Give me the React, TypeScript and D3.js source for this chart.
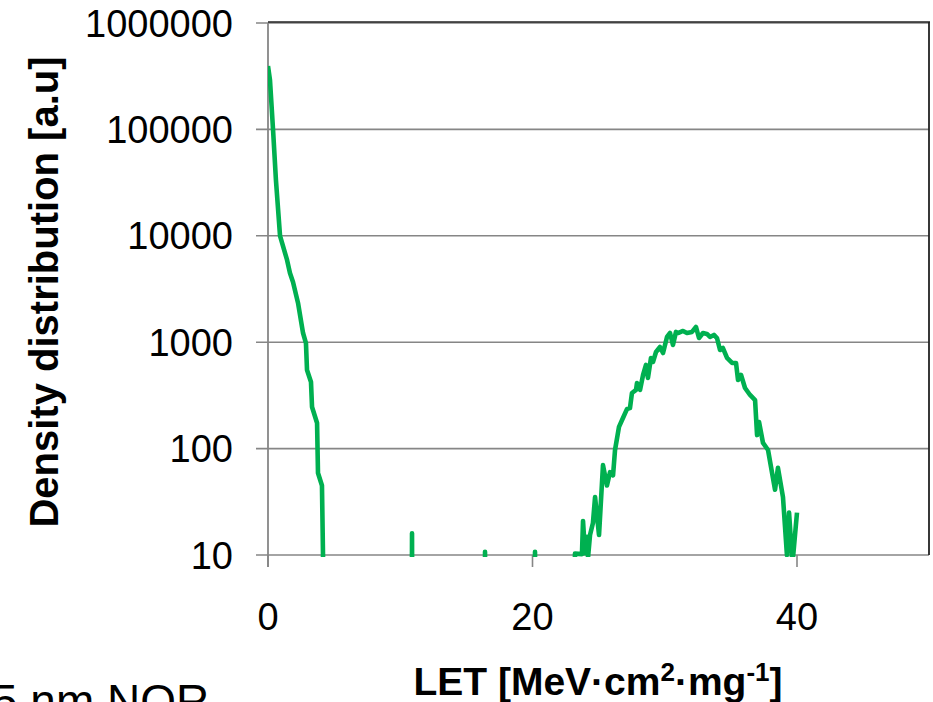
import React from "react";
import * as d3 from "d3";

// LET [MeV·cm²·mg⁻¹] and density distribution [a.u]
const leftLET = [0, 0.15, 0.38, 0.6, 0.91, 1.44, 1.66, 1.89, 2.27, 2.65, 2.87, 2.95, 3.25, 3.33, 3.71, 3.78, 4.08, 4.16, 4.2];
const leftDensity = [394000, 291000, 100000, 33400, 10000, 5930, 4470, 3680, 2340, 1220, 982, 548, 423, 246, 174, 59, 45, 10, 1];

const spikeLET = [10.86, 10.89, 10.92, 16.38, 16.41, 16.44, 20.16, 20.19, 20.22];
const spikeDensity = [1, 16, 1, 1, 10.7, 1, 1, 10.7, 1];

const rightLET = [
  23.18, 23.21, 23.74, 23.82, 23.97, 24.12, 24.2, 24.35, 24.57, 24.73,
  25.03, 25.33, 25.63, 25.86, 26.09, 26.24, 26.54, 26.84, 27.15, 27.37,
  27.52, 27.83, 27.9, 28.13, 28.36, 28.58, 28.73, 28.96, 29.11, 29.34,
  29.64, 29.87, 30.17, 30.4, 30.62, 30.85, 31.0, 31.38, 31.68, 32.06,
  32.36, 32.59, 32.89, 33.19, 33.42, 33.72, 33.95, 34.18, 34.4, 34.71,
  35.09, 35.39, 35.54, 35.77, 36.07, 36.45, 36.83, 36.98, 37.13, 37.43,
  37.81, 38.34, 38.56, 38.94, 39.24, 39.4, 39.62, 39.7, 40.0,
];
const rightDensity = [
  1, 10.3, 10.2, 20.9, 10.4, 14.8, 9.5, 15.4, 20, 35,
  15.4, 70, 45, 60, 56, 97, 160, 194, 236, 240,
  333, 356, 414, 356, 492, 611, 461, 711, 652, 809,
  902, 792, 1120, 1220, 942, 1250, 1220, 1275, 1220, 1250,
  1390, 1095, 1220, 1195, 1120, 1170, 1095, 845, 882, 711,
  638, 638, 441, 492, 371, 319, 286, 134, 178, 113,
  97, 41, 66, 35, 10, 25, 9.5, 9.5, 25,
];

const yTicks = [10, 100, 1000, 10000, 100000, 1000000];
const xTicks = [0, 20, 40];
const xTitle = "LET [MeV·cm";
const yTitle = "Density distribution [a.u]";
const cornerLabel = "5 nm NOR";

const W = 933;
const H = 702;
const plot = { left: 268, right: 929, top: 23, bottom: 555 };

export default function App() {
  const x = d3.scaleLinear().domain([0, 50]).range([plot.left, plot.left + (797 - 268) * 50 / 40]);
  const y = d3.scaleLog().domain([10, 1000000]).range([plot.bottom, plot.top]);

  const pts: [number, number][] = [];
  leftLET.forEach((v, i) => pts.push([v, leftDensity[i]]));
  spikeLET.forEach((v, i) => pts.push([v, spikeDensity[i]]));
  rightLET.forEach((v, i) => pts.push([v, rightDensity[i]]));

  const line = d3
    .line<[number, number]>()
    .x((d) => x(d[0]))
    .y((d) => y(d[1]));

  const font = "Arial, 'Liberation Sans', sans-serif";

  return (
    <svg
      width={W}
      height={H}
      style={{ position: "absolute", left: 0, top: 0, background: "#fff" }}
      fontFamily={font}
    >
      <defs>
        <clipPath id="plotclip">
          <rect x={plot.left} y={plot.top - 3} width={plot.right - plot.left + 3} height={plot.bottom - plot.top + 5} />
        </clipPath>
      </defs>
      {/* gridlines */}
      {yTicks.map((t) => (
        <line key={"g" + t} x1={plot.left - 12} x2={plot.right} y1={y(t)} y2={y(t)} stroke="#868686" strokeWidth={1.6} />
      ))}
      {/* top and right border */}
      <line x1={plot.left} x2={plot.right + 1} y1={plot.top - 1} y2={plot.top - 1} stroke="#222" strokeWidth={1.6} />
      <line x1={plot.right} x2={plot.right} y1={plot.top - 1} y2={plot.bottom} stroke="#222" strokeWidth={1.8} />
      {/* left axis */}
      <line x1={plot.left} x2={plot.left} y1={plot.top} y2={plot.bottom + 12} stroke="#868686" strokeWidth={1.8} />
      {/* x ticks */}
      {xTicks.map((t) => (
        <line key={"xt" + t} x1={x(t)} x2={x(t)} y1={plot.bottom} y2={plot.bottom + 12} stroke="#868686" strokeWidth={1.6} />
      ))}
      {/* y tick labels */}
      {yTicks.map((t) => (
        <text key={"yl" + t} x={233} y={y(t)} dy="0.36em" textAnchor="end" fontSize={38} fill="#000">
          {String(t)}
        </text>
      ))}
      {/* x tick labels */}
      {xTicks.map((t) => (
        <text key={"xl" + t} x={x(t)} y={630} textAnchor="middle" fontSize={38} fill="#000">
          {String(t)}
        </text>
      ))}
      {/* data line */}
      <g clipPath="url(#plotclip)">
        <path d={line(pts) || ""} fill="none" stroke="#00b050" strokeWidth={4.6} strokeLinejoin="round" />
      </g>
      {/* axis titles */}
      <text x={598} y={695} textAnchor="middle" fontSize={39} fontWeight="bold" fill="#000">
        {xTitle}
        <tspan fontSize={26} dy={-14}>2</tspan>
        <tspan fontSize={39} dy={14}>·mg</tspan>
        <tspan fontSize={26} dy={-14}>-1</tspan>
        <tspan fontSize={39} dy={14}>]</tspan>
      </text>
      <text
        transform={`translate(58, 292) rotate(-90)`}
        textAnchor="middle"
        fontSize={40}
        fontWeight="bold"
        fill="#000"
      >
        {yTitle}
      </text>
      <text x={-8} y={717} fontSize={46} fill="#000">
        {cornerLabel}
      </text>
    </svg>
  );
}
